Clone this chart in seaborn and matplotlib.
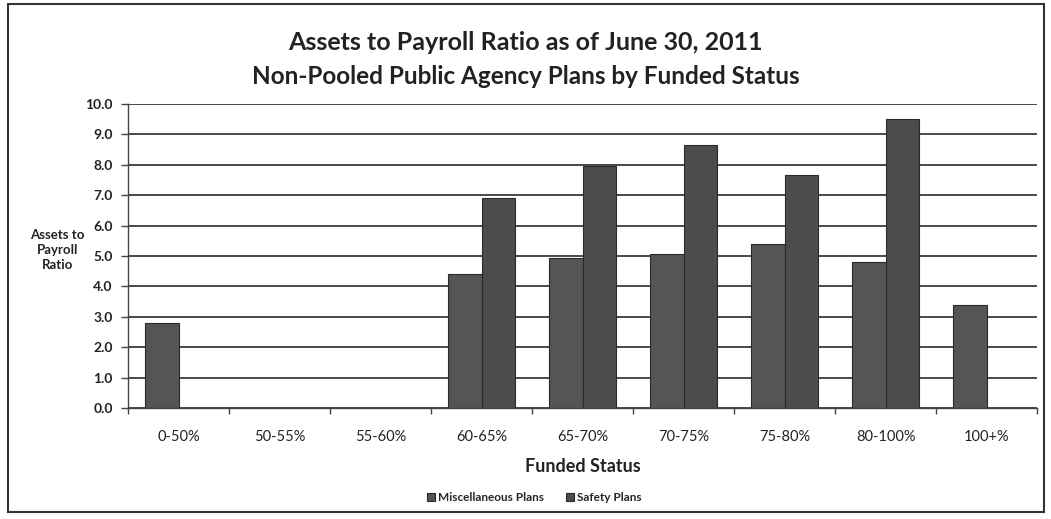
import numpy as np
import pandas as pd
import seaborn as sns
import matplotlib.pyplot as plt
from matplotlib.patches import Rectangle
from matplotlib.ticker import MultipleLocator, FixedLocator

# Funded-status buckets and assets-to-payroll ratios per plan type
categories = ["0-50%", "50-55%", "55-60%", "60-65%", "65-70%", "70-75%", "75-80%", "80-100%", "100+%"]
misc_plans = [2.8, np.nan, np.nan, 4.4, 4.95, 5.05, 5.4, 4.8, 3.4]
safety_plans = [np.nan, np.nan, np.nan, 6.9, 7.95, 8.65, 7.65, 9.5, np.nan]
series_names = ["Miscellaneous Plans", "Safety Plans"]

df = pd.DataFrame({
    "Funded Status": categories * 2,
    "Plan": [series_names[0]] * len(categories) + [series_names[1]] * len(categories),
    "Ratio": misc_plans + safety_plans,
})

sns.set_theme(style="white")
plt.rcParams["font.family"] = ["Lato", "DejaVu Sans"]

fig = plt.figure(figsize=(10.51, 5.19), dpi=100)
ax = fig.add_axes([0.1218, 0.2139, 0.8649, 0.5857])

palette = {series_names[0]: "#555555", series_names[1]: "#4c4c4c"}
sns.barplot(data=df, x="Funded Status", y="Ratio", hue="Plan", order=categories,
            hue_order=series_names, palette=palette, width=0.66, dodge=True,
            edgecolor="#2a2a2a", linewidth=0.8, saturation=1, ax=ax, legend=True)

ax.set_ylim(0, 10)
ax.set_xlim(-0.5, len(categories) - 0.5)
ax.yaxis.set_major_locator(MultipleLocator(1))
ax.set_yticklabels([f"{v:.1f}" for v in ax.get_yticks()], fontsize=10, fontweight="bold", color="#222222")
ax.grid(axis="y", color="#3a3a3a", linewidth=1.3)
ax.set_axisbelow(True)

# category separators as small ticks under the axis
ax.xaxis.set_minor_locator(FixedLocator(np.arange(-0.5, len(categories), 1.0)))
ax.tick_params(axis="x", which="major", length=0, pad=16, labelsize=10.5, labelcolor="#222222")
ax.tick_params(axis="x", which="minor", length=4, width=1, color="#444444", bottom=True)
ax.tick_params(axis="y", which="major", length=5, width=1, color="#444444", left=True, pad=6)

for side in ["top", "right"]:
    ax.spines[side].set_visible(False)
for side in ["left", "bottom"]:
    ax.spines[side].set_color("#444444")
    ax.spines[side].set_linewidth(1.0)

ax.set_xlabel("Funded Status", fontsize=13, fontweight="bold", color="#222222", labelpad=10)
ax.set_ylabel("")
fig.text(0.055, 0.518, "Assets to\nPayroll\nRatio", ha="center", va="center",
         fontsize=9.5, fontweight="bold", color="#222222", linespacing=1.3)

fig.text(0.5, 0.918, "Assets to Payroll Ratio as of June 30, 2011", ha="center", va="center",
         fontsize=18, fontweight="bold", color="#222222")
fig.text(0.5, 0.853, "Non-Pooled Public Agency Plans by Funded Status", ha="center", va="center",
         fontsize=17.5, fontweight="bold", color="#222222")

ax.legend(loc="center", bbox_to_anchor=(0.447, -0.296), ncol=2, frameon=False,
          prop={"size": 8.5, "weight": "bold"}, handlelength=0.7, handleheight=0.7,
          handletextpad=0.3, columnspacing=1.8)

# outer frame around the chart
fig.patches.append(Rectangle((0.008, 0.013), 0.985, 0.98, transform=fig.transFigure,
                             fill=False, edgecolor="#333333", linewidth=1.5))

fig.savefig("out.png", dpi=100, facecolor="white")
